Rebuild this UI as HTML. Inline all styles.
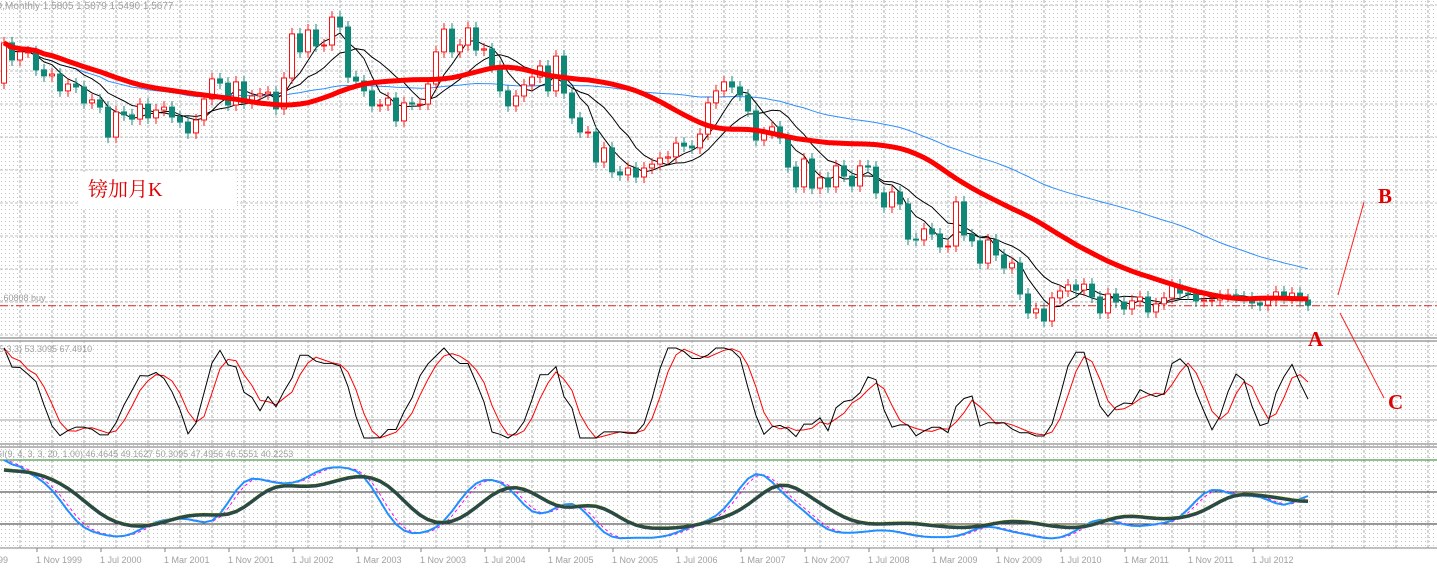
<!DOCTYPE html>
<html><head><meta charset="utf-8"><style>
html,body{margin:0;padding:0;background:#fff;}
svg{display:block;font-family:"Liberation Sans","Noto Sans CJK SC",sans-serif;}
</style></head><body>
<svg id="chart" width="1437" height="570" viewBox="0 0 1437 570" xmlns="http://www.w3.org/2000/svg">
<defs>
<pattern id="dots" width="4" height="4" patternUnits="userSpaceOnUse"><rect x="1" y="1" width="1" height="1" fill="#c4c4c4"/></pattern>
</defs>
<rect width="1437" height="570" fill="#fff"/>
<rect width="1437" height="548" fill="url(#dots)"/>
<g id="grid"></g>
<g id="main"></g>
<g id="stoch"></g>
<g id="osc"></g>
<g id="axis"></g>
<text x="-40" y="9" font-size="10" fill="#a0a0a0">GBPCAD,Monthly  1.5805 1.5879 1.5490 1.5677</text>
<text x="-4" y="301" font-size="9" fill="#a0a0a0">1.60808 buy</text>
<text x="-4" y="352" font-size="9" fill="#a0a0a0">(5,3,3) 53.3095 67.4910</text>
<text x="-4" y="457" font-size="9" fill="#a0a0a0">SI(9, 4, 3, 3, 20, 1.00) 46.4645 49.1627 50.3095 47.4956 46.5551 40.2253</text>
<rect x="80" y="172" width="157" height="36" fill="#fff"/>
<text x="88" y="196" font-size="20" fill="#e00000" font-family="'Liberation Serif','Noto Serif CJK SC',serif">镑加月K</text>
<line x1="1338" y1="295" x2="1364" y2="202" stroke="#ff2020" stroke-width="1"/>
<line x1="1340" y1="313" x2="1384" y2="398" stroke="#ff2020" stroke-width="1"/>
<text x="1308" y="346" font-size="21" font-weight="bold" fill="#e00000" font-family="'Liberation Serif',serif">A</text>
<text x="1378" y="203" font-size="21" font-weight="bold" fill="#e00000" font-family="'Liberation Serif',serif">B</text>
<text x="1388" y="409" font-size="21" font-weight="bold" fill="#e00000" font-family="'Liberation Serif',serif">C</text>
</svg>
<script>
const closes=[2.457,2.400,2.427,2.427,2.367,2.347,2.353,2.297,2.320,2.310,2.257,2.267,2.243,2.143,2.227,2.217,2.203,2.253,2.207,2.233,2.243,2.210,2.193,2.157,2.200,2.270,2.337,2.323,2.250,2.327,2.257,2.280,2.287,2.293,2.237,2.340,2.487,2.427,2.500,2.447,2.450,2.543,2.510,2.343,2.330,2.297,2.247,2.250,2.273,2.197,2.257,2.253,2.253,2.320,2.427,2.503,2.427,2.450,2.507,2.433,2.437,2.377,2.297,2.247,2.280,2.317,2.343,2.380,2.297,2.413,2.290,2.207,2.160,2.160,2.060,2.107,2.027,2.017,2.040,2.010,2.040,2.053,2.073,2.077,2.123,2.113,2.107,2.153,2.257,2.297,2.327,2.310,2.283,2.230,2.133,2.157,2.177,2.140,2.043,1.977,2.070,1.973,2.007,1.977,2.047,2.013,1.980,2.047,2.043,1.957,1.910,1.960,1.920,1.803,1.800,1.837,1.820,1.777,1.780,1.927,1.817,1.797,1.723,1.800,1.750,1.707,1.723,1.620,1.557,1.570,1.530,1.607,1.630,1.650,1.633,1.653,1.610,1.557,1.620,1.593,1.570,1.597,1.610,1.560,1.587,1.607,1.650,1.623,1.620,1.597,1.600,1.600,1.613,1.617,1.610,1.607,1.590,1.583,1.600,1.627,1.607,1.623,1.600,1.583];
const firstOpen=[2.323];
const axisLabels=["1999","1 Nov 1999","1 Jul 2000","1 Mar 2001","1 Nov 2001","1 Jul 2002","1 Mar 2003","1 Nov 2003","1 Jul 2004","1 Mar 2005","1 Nov 2005","1 Jul 2006","1 Mar 2007","1 Nov 2007","1 Jul 2008","1 Mar 2009","1 Nov 2009","1 Jul 2010","1 Mar 2011","1 Nov 2011","1 Jul 2012"];
const buyLevel=[1.5807];
const stochLevels=[20,80];
const oscLevels=[20,60,100];

const NS="http://www.w3.org/2000/svg";
function mk(parent,tag,attrs){const e=document.createElementNS(NS,tag);for(const k in attrs)e.setAttribute(k,attrs[k]);parent.appendChild(e);return e;}
const xOf=i=>4+8*i;
const yMain=p=>330-(p-1.5)*300;
const yS=v=>438-v*0.9;
const yB=v=>540-v*0.8;

const grid=document.getElementById('grid');
for(let x=20;x<1437;x+=32){const l=mk(grid,'line',{x1:x,y1:0,x2:x,y2:548,stroke:'#a8b0b0','stroke-dasharray':'3,2','stroke-width':1});

}
for(let y=5;y<336;y+=33){const l=mk(grid,'line',{x1:0,y1:y,x2:1437,y2:y,stroke:'#b8c0c0','stroke-dasharray':'3,2','stroke-width':1});

}
[338,341,444,447].forEach(y=>{const l=mk(grid,'line',{x1:0,y1:y,x2:1437,y2:y,stroke:'#a0a0a0','stroke-width':1.5});

});

const opens=closes.map((c,i)=>i===0?firstOpen[0]:closes[i-1]);
function sma(arr,n){return arr.map((v,i)=>{let s=0,c=0;for(let j=Math.max(0,i-n+1);j<=i;j++){if(arr[j]!=null){s+=arr[j];c++;}}return c?s/c:null;});}
function pathOf(vals,yf){let d='';vals.forEach((v,i)=>{if(v==null)return;d+=(d?'L':'M')+xOf(i)+','+yf(v).toFixed(1);});return d;}

const main=document.getElementById('main');
const bl=mk(main,'line',{x1:0,y1:yMain(buyLevel[0]),x2:1437,y2:yMain(buyLevel[0]),stroke:'#e02020','stroke-dasharray':'8,3,2,3','stroke-width':1});



const ma60=sma(closes,60), maRed=sma(sma(closes,26),5), ma5=sma(closes,5), ma10=sma(closes,10);
let p=mk(main,'path',{d:pathOf(ma60,yMain),fill:'none',stroke:'#2f8fff','stroke-width':1});


p=mk(main,'path',{d:pathOf(ma10,yMain),fill:'none',stroke:'#000','stroke-width':1});


p=mk(main,'path',{d:pathOf(ma5,yMain),fill:'none',stroke:'#000','stroke-width':1});



closes.forEach((c,i)=>{
  const o=opens[i],x=xOf(i),up=c>=o;
  const top=yMain(Math.max(o,c)),bot=yMain(Math.min(o,c));
  const col=up?'#ff1010':'#108878';
  const w=mk(main,'line',{x1:x,y1:top-6,x2:x,y2:bot+6,stroke:col,'stroke-width':1});
  
  
  const h=Math.max(1,bot-top);
  const b=mk(main,'rect',{x:x-2.5,y:top,width:5,height:h,fill:up?'#fff':'#108878',stroke:col,'stroke-width':1});
  
  
});
p=mk(main,'path',{d:pathOf(maRed,yMain),fill:'none',stroke:'#ff0000','stroke-width':5});



function stochK(n){return closes.map((c,i)=>{let hh=-1e9,ll=1e9;for(let j=Math.max(0,i-n+1);j<=i;j++){hh=Math.max(hh,opens[j],closes[j]);ll=Math.min(ll,opens[j],closes[j]);}return hh>ll?(c-ll)/(hh-ll)*100:50;});}
const st=document.getElementById('stoch');
stochLevels.forEach(v=>{const l=mk(st,'line',{x1:0,y1:yS(v),x2:1437,y2:yS(v),stroke:'#a0a0a0','stroke-width':1});

});
const K=sma(stochK(5),3), D=sma(K,3);
p=mk(st,'path',{d:pathOf(D,yS),fill:'none',stroke:'#ff0000','stroke-width':1});


p=mk(st,'path',{d:pathOf(K,yS),fill:'none',stroke:'#000','stroke-width':1});



const os=document.getElementById('osc');
oscLevels.forEach(v=>{const l=mk(os,'line',{x1:0,y1:yB(v),x2:1437,y2:yB(v),stroke:v===100?'#208020':'#303030','stroke-width':1});

});
const blue=sma(sma(sma(stochK(20),4),3),3);
const mag=sma(blue,2);
const dark=sma(sma(blue,4),4).map(v=>v==null?null:50+(v-50)*0.75);
p=mk(os,'path',{d:pathOf(mag,yB),fill:'none',stroke:'#ff00ff','stroke-width':1,'stroke-dasharray':'3,3'});


p=mk(os,'path',{d:pathOf(blue,yB),fill:'none',stroke:'#2090ff','stroke-width':2});


p=mk(os,'path',{d:pathOf(dark,v=>yB(v)-1),fill:'none',stroke:'#e0e000','stroke-width':2});


p=mk(os,'path',{d:pathOf(dark,yB),fill:'none',stroke:'#2a4a48','stroke-width':3.5});



const ax=document.getElementById('axis');
const al=mk(ax,'line',{x1:0,y1:548,x2:1437,y2:548,stroke:'#808080','stroke-width':1});


axisLabels.forEach((t,k)=>{const x=k===0?-12:36+64*(k-1);
  const tx=mk(ax,'text',{x:x,y:563,'font-size':9,fill:'#a0a0a0'});tx.textContent=t;
  
  
  const tk=mk(ax,'line',{x1:x+1,y1:548,x2:x+1,y2:552,stroke:'#808080'});
  
  });
</script>
</body></html>
